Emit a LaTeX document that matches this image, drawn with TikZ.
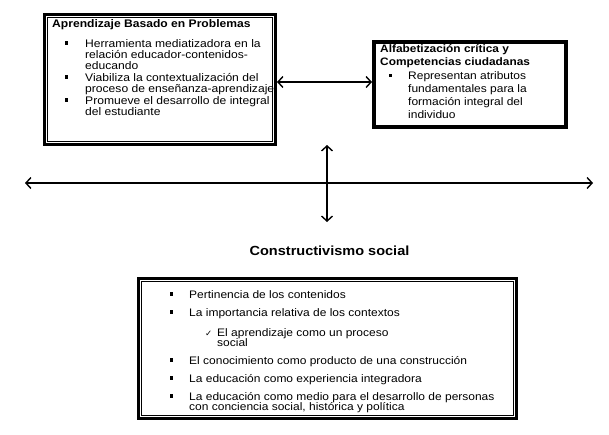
\documentclass[tikz,border=0pt]{standalone}
\usepackage{fontspec}
\setmainfont[FakeStretch=1.1]{Liberation Sans}
\newfontfamily\dejavu{DejaVu Sans}
\usetikzlibrary{arrows.meta}
\begin{document}
\begin{tikzpicture}[x=1pt,y=-1pt,
  box/.style={draw, line width=3pt, inner sep=0pt, outer sep=1.5pt, rectangle},
  innerline/.style={draw, line width=0.8pt},
  txtA/.style={anchor=base west, inner sep=0pt, font=\fontsize{11}{12}\selectfont},
  txtB/.style={anchor=base west, inner sep=0pt, font=\fontsize{10.9}{12}\selectfont},
  ttlA/.style={anchor=base west, inner sep=0pt, font=\bfseries\fontsize{11}{12}\selectfont},
  ttlB/.style={anchor=base west, inner sep=0pt, font=\bfseries\fontsize{10.8}{12}\selectfont},
  bigttl/.style={anchor=base, inner sep=0pt, font=\bfseries\fontsize{13.2}{14}\selectfont},
  bul/.style={fill, minimum width=3pt, minimum height=3.5pt, inner sep=0pt, anchor=center},
  chk/.style={anchor=base west, inner sep=0pt, font=\dejavu\fontsize{8.5}{10}\selectfont},
  arr/.style={line width=1.4pt, {Straight Barb[length=5pt,width=11pt]}-{Straight Barb[length=5pt,width=11pt]}}
]
\useasboundingbox (0,0) rectangle (609,434);
\fill[white] (0,0) rectangle (609,434);

% boxes
\node[box, minimum width=231pt, minimum height=130pt] (b1) at (160,79.5) {};
\draw[innerline] ([shift={(4.5,4.5)}]b1.north west) rectangle ([shift={(-4.5,-4.5)}]b1.south east);
\node[box, minimum width=193pt, minimum height=86pt] (b2) at (470,84.5) {};
\draw[innerline] ([shift={(3.5,3.5)}]b2.north west) rectangle ([shift={(-3.5,-3.5)}]b2.south east);
\node[box, minimum width=378pt, minimum height=140pt] (b3) at (327.5,348.5) {};
\draw[innerline] ([shift={(4.5,4.5)}]b3.north west) rectangle ([shift={(-4.5,-4.5)}]b3.south east);

% box 1 text
\node[ttlA] (t1) at (52,27) {Aprendizaje Basado en Problemas};
\node[bul] (p1a) at (66.5,43.2) {};
\node[txtA] (l1a) at (85,47) {Herramienta mediatizadora en la};
\node[txtA] (l1b) at (85,58) {relación educador-contenidos-};
\node[txtA] (l1c) at (85,69) {educando};
\node[bul] (p1b) at (66.5,77.2) {};
\node[txtA] (l1d) at (85,81) {Viabiliza la contextualización del};
\node[txtA] (l1e) at (85,92) {proceso de enseñanza-aprendizaje};
\node[bul] (p1c) at (66.5,100.2) {};
\node[txtA] (l1f) at (85,104) {Promueve el desarrollo de integral};
\node[txtA] (l1g) at (85,115) {del estudiante};

% box 2 text
\node[ttlB] (t2a) at (380,52.5) {Alfabetización crítica y};
\node[ttlB] (t2b) at (380,65) {Competencias ciudadanas};
\node[bul] (p2a) at (390,75.7) {};
\node[txtB] (l2a) at (408,79.5) {Representan atributos};
\node[txtB] (l2b) at (408,92.5) {fundamentales para la};
\node[txtB] (l2c) at (408,105.5) {formación integral del};
\node[txtB] (l2d) at (408,118.5) {individuo};

% connectors
\coordinate (ay) at (0,82);
\draw[arr] (b1.east |- ay) -- (b2.west |- ay);
\coordinate (hl) at (25,183);
\coordinate (hr) at (593,183);
\draw[arr] (hl) -- (hr);
\coordinate (vt) at (327,145);
\coordinate (vb) at (327,222);
\draw[arr] (vt) -- (vb);

\node[bigttl] (ct) at (329.5,255) {Constructivismo social};

% box 3 text
\node[bul] (p3a) at (171.5,294.2) {};
\node[txtB] (l3a) at (189,298) {Pertinencia de los contenidos};
\node[bul] (p3b) at (171.5,312.2) {};
\node[txtB] (l3b) at (189,316) {La importancia relativa de los contextos};
\node[chk] (c3) at (205,336) {✓};
\node[txtB] (l3c) at (217,336) {El aprendizaje como un proceso};
\node[txtB] (l3d) at (217,346) {social};
\node[bul] (p3e) at (171.5,360.2) {};
\node[txtB] (l3e) at (189,364) {El conocimiento como producto de una construcción};
\node[bul] (p3f) at (171.5,378.2) {};
\node[txtB] (l3f) at (189,382) {La educación como experiencia integradora};
\node[bul] (p3g) at (171.5,396.2) {};
\node[txtB] (l3g) at (189,400) {La educación como medio para el desarrollo de personas};
\node[txtB] (l3h) at (189,410) {con conciencia social, histórica y política};
\end{tikzpicture}
\end{document}
